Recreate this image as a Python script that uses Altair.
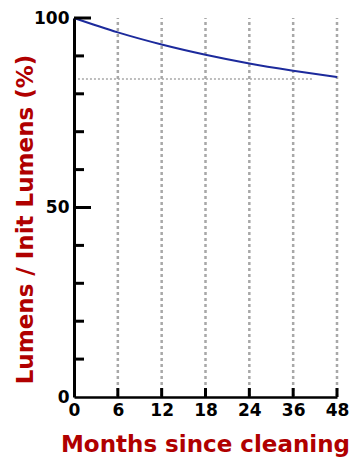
import json
import altair as alt
import pandas as pd

# ---- data ----
month_labels = ["0", "6", "12", "18", "24", "36", "48"]
month_index = [0, 1, 2, 3, 4, 5, 6]
lumens_pct = [100, 96.2, 93.0, 90.3, 88.0, 86.1, 84.4]
ref_level = [83.9]
ref_span = [0.09, 5.43]
grid_index = [1, 2, 3, 4, 5, 6]
y_major = [50, 100]
y_minor = [10, 20, 30, 40, 60, 70, 80, 90]

W, H = 263, 379
FONT = "DejaVu Sans"
RED = "#b00000"

curve_df = pd.DataFrame({"idx": month_index, "val": lumens_pct})
grid_df = pd.DataFrame({"idx": grid_index, "lo": [0] * len(grid_index), "hi": [100] * len(grid_index)})
ref_df = pd.DataFrame({"x0": [ref_span[0]], "x1": [ref_span[1]], "val": ref_level})
major_df = pd.DataFrame({"val": y_major})
minor_df = pd.DataFrame({"val": y_minor})
xtick_df = pd.DataFrame({"idx": grid_index})

label_expr = json.dumps(month_labels) + "[datum.value]"

x_scale = alt.Scale(domain=[0, 6], nice=False, zero=False)
y_scale = alt.Scale(domain=[0, 100], nice=False)

x_axis = alt.Axis(
    values=month_index, labelExpr=label_expr, title="Months since cleaning",
    grid=False, ticks=False, domainColor="black", domainWidth=2.5,
    labelFont=FONT, labelFontWeight="bold", labelFontSize=17, labelColor="black",
    labelPadding=5, labelFlush=False,
    titleFont=FONT, titleFontWeight="bold", titleFontSize=23, titleColor=RED,
    titleX=131, titleY=54, titleBaseline="alphabetic", titleAlign="center",
)
y_axis = alt.Axis(
    values=[0, 50, 100], title="Lumens / Init Lumens (%)",
    grid=False, ticks=False, domainColor="black", domainWidth=3,
    labelFont=FONT, labelFontWeight="bold", labelFontSize=17, labelColor="black",
    labelPadding=5, labelFlush=False,
    titleFont=FONT, titleFontWeight="bold", titleFontSize=23, titleColor=RED,
    titleX=-49, titleY=201, titleAngle=-90, titleBaseline="middle", titleAlign="center",
)

grid = alt.Chart(grid_df).mark_rule(
    color="#a8a8a8", strokeWidth=2.5, strokeDash=[3, 3]
).encode(
    x=alt.X("idx:Q", scale=x_scale, axis=x_axis),
    y=alt.Y("lo:Q", scale=y_scale, axis=y_axis),
    y2="hi:Q",
)

ref = alt.Chart(ref_df).mark_rule(
    color="#a8a8a8", strokeWidth=1.5, strokeDash=[2, 2]
).encode(x="x0:Q", x2="x1:Q", y="val:Q")

curve = alt.Chart(curve_df).mark_line(
    color="#1c2a9c", strokeWidth=2, interpolate="monotone"
).encode(x="idx:Q", y="val:Q")

major = alt.Chart(major_df).mark_rule(color="black", strokeWidth=3).encode(
    y="val:Q", x=alt.value(0), x2=alt.value(17)
)
minor = alt.Chart(minor_df).mark_rule(color="black", strokeWidth=3).encode(
    y="val:Q", x=alt.value(0), x2=alt.value(10)
)
xticks = alt.Chart(xtick_df).mark_rule(color="black", strokeWidth=3).encode(
    x="idx:Q", y=alt.value(H - 9), y2=alt.value(H)
)

chart = alt.layer(grid, ref, curve, major, minor, xticks).properties(
    width=W, height=H,
    autosize=alt.AutoSizeParams(type="none"),
    padding={"left": 74, "top": 18, "right": 23, "bottom": 73},
    background="white",
).configure_view(stroke=None)

chart.save("out.html", embed_options={"renderer": "svg", "actions": False})
